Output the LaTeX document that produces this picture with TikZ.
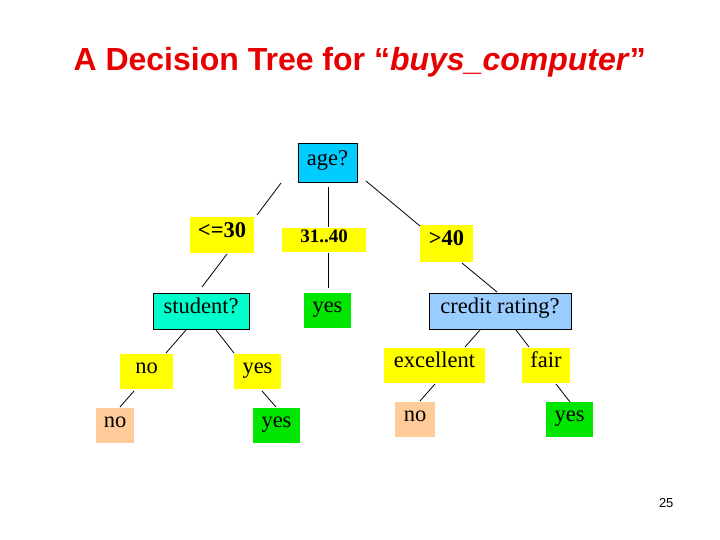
\documentclass[tikz,border=0pt]{standalone}
\usepackage{fontspec}
\setmainfont{Liberation Serif}
\newfontfamily\titlefont{Liberation Sans}
\definecolor{ylw}{RGB}{255,255,0}
\definecolor{agec}{RGB}{0,204,255}
\definecolor{stuc}{RGB}{0,255,204}
\definecolor{crc}{RGB}{153,204,255}
\definecolor{grn}{RGB}{0,230,0}
\definecolor{pch}{RGB}{255,204,153}
\definecolor{ttl}{RGB}{230,0,0}
\begin{document}
\begin{tikzpicture}[x=1pt,y=-1pt,
  box/.style={inner sep=0pt,font=\fontsize{22.5}{25}\selectfont,text height=0.62em,text depth=0.18em},
  edge/.style={line width=0.8pt}]
\useasboundingbox (0,0) rectangle (720,540);
\newcommand\bx[7]{\node[box,fill=#6,minimum width={#4-#2},minimum height={#5-#3}] (#1) at ({(#2+#4)/2},{(#3+#5)/2}) {#7};}
\node[font=\titlefont\bfseries\fontsize{32}{36}\selectfont,text=ttl,anchor=west] (title) at (70,62) {A Decision Tree for “\textit{buys\_computer}”};
\bx{age}{298}{144}{357}{182}{agec}{age?}
\draw[line width=0.6pt] (age.south west) rectangle (age.north east);
\bx{le}{190}{217}{254}{253}{ylw}{\textbf{<=30}}
\bx{mid}{282}{228}{366}{252}{ylw}{\fontsize{19}{21}\selectfont\textbf{31..40}}
\bx{gt}{420}{225}{473}{262}{ylw}{\textbf{>40}}
\bx{stu}{153}{293}{249}{329}{stuc}{student?}
\draw[line width=0.6pt] (stu.south west) rectangle (stu.north east);
\bx{ym}{304}{293}{351}{328}{grn}{yes}
\bx{cr}{429}{293}{571}{329}{crc}{credit rating?}
\draw[line width=0.6pt] (cr.south west) rectangle (cr.north east);
\bx{sno}{120}{354}{173}{389}{ylw}{no}
\bx{syes}{234}{354}{281}{389}{ylw}{yes}
\bx{exc}{384}{348}{485}{383}{ylw}{excellent}
\bx{fair}{522}{348}{570}{383}{ylw}{fair}
\bx{lno}{96}{408}{134}{443}{pch}{no}
\bx{lyes}{253}{408}{300}{443}{grn}{yes}
\bx{rno}{395}{402}{435}{437}{pch}{no}
\bx{ryes}{546}{402}{593}{437}{grn}{yes}
\node[font=\titlefont\fontsize{13}{15}\selectfont,anchor=east] (pg) at (677,503) {25};
\coordinate (a1) at (281,183); \coordinate (a2) at (257,215);
\coordinate (b1) at (328,187); \coordinate (b2) at (328,227);
\coordinate (c1) at (366,181); \coordinate (c2) at (420,226);
\coordinate (d1) at (227,254); \coordinate (d2) at (202,287);
\coordinate (e1) at (328,253); \coordinate (e2) at (328,288);
\coordinate (f1) at (462,263); \coordinate (f2) at (497,292);
\coordinate (g1) at (186,330); \coordinate (g2) at (166,353);
\coordinate (h1) at (216,330); \coordinate (h2) at (234,353);
\coordinate (i1) at (134,391); \coordinate (i2) at (120,407);
\coordinate (j1) at (262,391); \coordinate (j2) at (276,407);
\coordinate (k1) at (480,330); \coordinate (k2) at (465,347);
\coordinate (l1) at (516,330); \coordinate (l2) at (529,347);
\coordinate (m1) at (435,384); \coordinate (m2) at (420,401);
\coordinate (n1) at (556,384); \coordinate (n2) at (570,402);
\foreach \p in {a,b,c,d,e,f,g,h,i,j,k,l,m,n} \draw[edge] (\p1) -- (\p2);
\end{tikzpicture}
\end{document}
